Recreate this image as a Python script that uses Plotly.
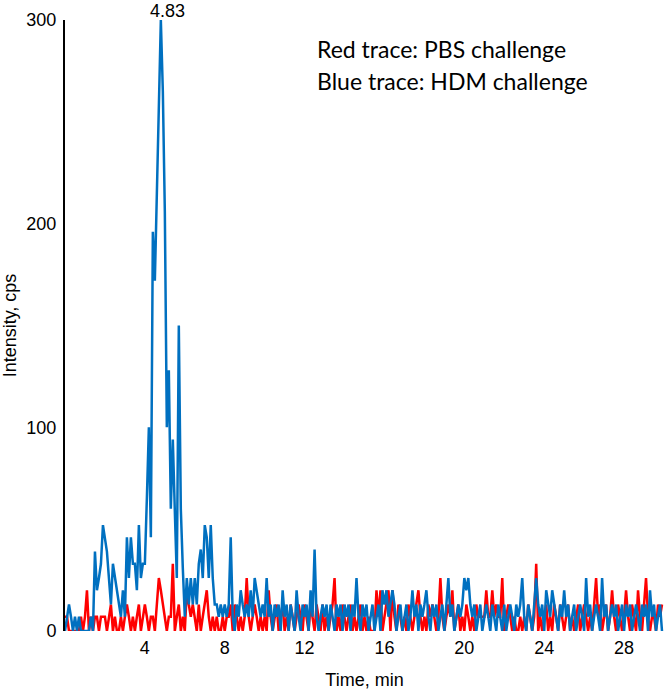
import numpy as np
import plotly.graph_objects as go

# Time axis (min), 0.1-min sampling
time_min = [round(i * 0.1, 1) for i in range(300)]

# Red trace: PBS challenge (cps)
pbs_cps = [
    7, 7, 0, 0, 0, 0, 0, 0, 7, 0,
    7, 20, 0, 7, 0, 7, 7, 0, 7, 7,
    7, 0, 7, 13, 0, 7, 0, 0, 7, 0,
    7, 13, 7, 0, 7, 0, 7, 13, 0, 7,
    13, 7, 0, 7, 7, 0, 13, 26, 20, 13,
    7, 0, 7, 7, 33, 0, 7, 13, 0, 7,
    0, 20, 13, 7, 13, 7, 0, 13, 0, 7,
    13, 20, 7, 0, 7, 0, 7, 0, 0, 7,
    0, 7, 7, 13, 0, 13, 7, 0, 7, 0,
    7, 26, 7, 0, 7, 13, 7, 0, 7, 0,
    7, 0, 20, 7, 0, 7, 13, 0, 7, 13,
    0, 7, 0, 13, 7, 0, 7, 13, 7, 0,
    13, 7, 0, 13, 7, 0, 13, 7, 0, 13,
    0, 7, 0, 7, 13, 26, 0, 7, 0, 13,
    7, 0, 7, 13, 0, 7, 0, 7, 13, 0,
    7, 0, 7, 0, 0, 0, 20, 7, 20, 0,
    7, 13, 20, 0, 20, 7, 0, 13, 7, 0,
    7, 0, 13, 7, 0, 7, 13, 20, 7, 0,
    7, 0, 13, 7, 13, 7, 0, 7, 26, 7,
    0, 7, 13, 7, 20, 0, 7, 13, 0, 7,
    0, 13, 7, 0, 7, 0, 13, 7, 7, 7,
    7, 20, 7, 7, 20, 7, 13, 7, 7, 26,
    0, 7, 13, 7, 0, 7, 0, 0, 7, 0,
    7, 0, 13, 7, 0, 7, 33, 0, 7, 0,
    7, 13, 0, 7, 0, 13, 7, 0, 13, 7,
    0, 7, 13, 0, 7, 0, 7, 13, 0, 7,
    13, 7, 0, 7, 0, 13, 26, 7, 13, 0,
    7, 13, 0, 7, 20, 7, 0, 13, 7, 0,
    7, 20, 7, 0, 13, 7, 0, 20, 7, 0,
    13, 26, 7, 0, 7, 7, 0, 13, 7, 13,
]

# Blue trace: HDM challenge (cps)
hdm_cps = [
    0, 7, 13, 7, 0, 7, 0, 7, 0, 0,
    0, 0, 0, 7, 0, 39, 20, 26, 33, 52,
    46, 39, 26, 13, 33, 26, 20, 13, 7, 20,
    7, 46, 26, 46, 33, 33, 20, 52, 26, 33,
    33, 65, 100, 46, 196, 172, 220, 260, 300, 265,
    206, 100, 128, 60, 94, 59, 26, 150, 60, 31,
    7, 26, 13, 26, 13, 26, 13, 33, 40, 26,
    52, 46, 26, 52, 26, 13, 13, 7, 13, 7,
    13, 7, 13, 46, 7, 0, 13, 7, 20, 13,
    7, 13, 7, 20, 7, 26, 20, 13, 7, 13,
    7, 26, 7, 13, 0, 13, 7, 13, 0, 20,
    7, 13, 0, 13, 7, 0, 20, 7, 0, 13,
    7, 13, 0, 20, 7, 40, 7, 0, 7, 13,
    7, 13, 0, 13, 7, 0, 13, 7, 13, 0,
    13, 7, 13, 0, 13, 7, 26, 7, 0, 13,
    7, 13, 0, 7, 13, 0, 7, 13, 0, 20,
    13, 20, 7, 13, 20, 13, 0, 7, 13, 0,
    7, 13, 0, 7, 20, 7, 13, 0, 13, 7,
    13, 20, 7, 0, 13, 7, 13, 0, 7, 13,
    0, 13, 26, 7, 13, 0, 7, 13, 7, 13,
    26, 20, 26, 13, 7, 13, 0, 7, 13, 0,
    7, 13, 7, 0, 13, 7, 0, 13, 7, 0,
    13, 0, 7, 13, 7, 0, 13, 7, 13, 26,
    7, 0, 13, 7, 0, 13, 26, 13, 7, 13,
    0, 20, 13, 7, 20, 13, 7, 0, 13, 7,
    20, 7, 13, 0, 7, 13, 0, 7, 13, 7,
    0, 26, 7, 13, 0, 7, 13, 7, 0, 26,
    7, 13, 0, 7, 13, 7, 13, 0, 7, 13,
    0, 13, 7, 13, 0, 7, 13, 7, 0, 13,
    7, 13, 0, 20, 7, 13, 0, 7, 13, 0,
]

x_ticks = [4, 8, 12, 16, 20, 24, 28]
y_ticks = [0, 100, 200, 300]
peak_time = 4.83
peak_value = max(hdm_cps)

fig = go.Figure()
fig.add_trace(go.Scatter(x=time_min, y=pbs_cps, mode="lines",
                         line=dict(color="#FF0000", width=2.5),
                         name="PBS challenge", cliponaxis=False))
fig.add_trace(go.Scatter(x=time_min, y=hdm_cps, mode="lines",
                         line=dict(color="#0070C0", width=2.5),
                         name="HDM challenge", cliponaxis=False))

fig.add_annotation(x=peak_time, y=peak_value, text="4.83", showarrow=False,
                   yanchor="bottom", xshift=6, yshift=-3,
                   font=dict(family="Liberation Sans, Arial", size=18, color="black"))
fig.add_annotation(x=12.5, y=286, text="Red trace: PBS challenge", showarrow=False,
                   xanchor="left", yanchor="middle",
                   font=dict(family="Lato, Open Sans", size=23, color="black"))
fig.add_annotation(x=12.5, y=270, text="Blue trace: HDM challenge", showarrow=False,
                   xanchor="left", yanchor="middle",
                   font=dict(family="Lato, Open Sans", size=23, color="black"))

fig.update_layout(
    width=664, height=695,
    margin=dict(l=65, r=0, t=20, b=64),
    plot_bgcolor="white", paper_bgcolor="white",
    showlegend=False,
    font=dict(family="Liberation Sans, Arial", size=18, color="black"),
)
fig.update_xaxes(range=[0, 30], tickvals=x_ticks, ticks="", showgrid=False,
                 zeroline=False, showline=False, ticklabelstandoff=4,
                 automargin=False,
                 title=dict(text="Time, min", font=dict(size=18), standoff=16))
fig.update_yaxes(range=[0, 300], tickvals=y_ticks, ticks="", showgrid=False,
                 zeroline=False, showline=True, linecolor="black", linewidth=2,
                 ticklabelstandoff=3, automargin=False,
                 title=dict(text="Intensity, cps", font=dict(size=18), standoff=14))

fig.write_html("out.html", config={"displayModeBar": False},
               post_script="document.body.style.margin='0';")
